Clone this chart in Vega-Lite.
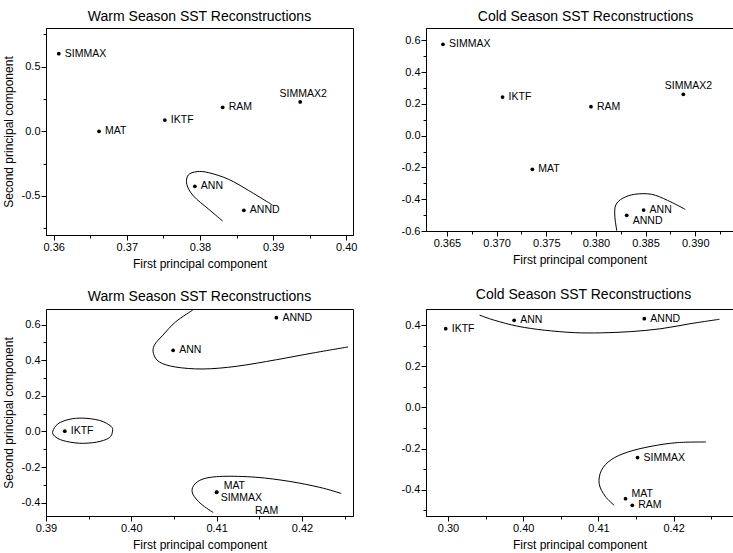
{
  "$schema": "https://vega.github.io/schema/vega-lite/v6.json",
  "background": "white",
  "padding": {"left": 1, "top": 9, "right": 0, "bottom": 0},
  "config": {
    "font": "Liberation Sans",
    "view": {"stroke": "black", "strokeWidth": 1},
    "axis": {
      "grid": false,
      "domainColor": "black",
      "tickColor": "black",
      "labelColor": "black",
      "titleColor": "black",
      "labelFont": "Liberation Sans",
      "titleFont": "Liberation Sans",
      "labelFontSize": 11,
      "titleFontSize": 12,
      "titleFontWeight": "normal",
      "labelPadding": 1,
      "titlePadding": 6,
      "labelFlush": false,
      "labelOverlap": false
    },
    "title": {"font": "Liberation Sans", "fontSize": 14, "fontWeight": "normal", "color": "black"}
  },
  "datasets": {
    "points": [
      {"panel": "warm_a", "name": "SIMMAX", "pc1": 0.3607, "pc2": 0.600},
      {"panel": "warm_a", "name": "MAT", "pc1": 0.3662, "pc2": 0.000},
      {"panel": "warm_a", "name": "IKTF", "pc1": 0.3752, "pc2": 0.087},
      {"panel": "warm_a", "name": "RAM", "pc1": 0.3831, "pc2": 0.186},
      {"panel": "warm_a", "name": "SIMMAX2", "pc1": 0.3937, "pc2": 0.227},
      {"panel": "warm_a", "name": "ANN", "pc1": 0.3793, "pc2": -0.425},
      {"panel": "warm_a", "name": "ANND", "pc1": 0.3860, "pc2": -0.611},
      {"panel": "cold_a", "name": "SIMMAX", "pc1": 0.3646, "pc2": 0.575},
      {"panel": "cold_a", "name": "IKTF", "pc1": 0.3706, "pc2": 0.243},
      {"panel": "cold_a", "name": "RAM", "pc1": 0.3795, "pc2": 0.182},
      {"panel": "cold_a", "name": "SIMMAX2", "pc1": 0.3888, "pc2": 0.260},
      {"panel": "cold_a", "name": "MAT", "pc1": 0.3736, "pc2": -0.212},
      {"panel": "cold_a", "name": "ANN", "pc1": 0.3848, "pc2": -0.468},
      {"panel": "cold_a", "name": "ANND", "pc1": 0.3831, "pc2": -0.501},
      {"panel": "warm_b", "name": "ANND", "pc1": 0.4170, "pc2": 0.639},
      {"panel": "warm_b", "name": "ANN", "pc1": 0.4049, "pc2": 0.456},
      {"panel": "warm_b", "name": "IKTF", "pc1": 0.3922, "pc2": 0.002},
      {"panel": "warm_b", "name": "MAT", "pc1": 0.4100, "pc2": -0.340},
      {"panel": "warm_b", "name": "SIMMAX", "pc1": 0.4100, "pc2": -0.342},
      {"panel": "warm_b", "name": "RAM", "pc1": 0.4155, "pc2": -0.490},
      {"panel": "cold_b", "name": "IKTF", "pc1": 0.3897, "pc2": 0.383},
      {"panel": "cold_b", "name": "ANN", "pc1": 0.3988, "pc2": 0.424},
      {"panel": "cold_b", "name": "ANND", "pc1": 0.4161, "pc2": 0.432},
      {"panel": "cold_b", "name": "SIMMAX", "pc1": 0.4152, "pc2": -0.244},
      {"panel": "cold_b", "name": "MAT", "pc1": 0.4136, "pc2": -0.444},
      {"panel": "cold_b", "name": "RAM", "pc1": 0.4145, "pc2": -0.476}
    ],
    "curves": [
      {"panel": "warm_a", "curve": "c1", "step": 1, "pc1": 0.3831, "pc2": -0.694},
      {"panel": "warm_a", "curve": "c1", "step": 2, "pc1": 0.3812, "pc2": -0.603},
      {"panel": "warm_a", "curve": "c1", "step": 3, "pc1": 0.3791, "pc2": -0.500},
      {"panel": "warm_a", "curve": "c1", "step": 4, "pc1": 0.3782, "pc2": -0.410},
      {"panel": "warm_a", "curve": "c1", "step": 5, "pc1": 0.3784, "pc2": -0.338},
      {"panel": "warm_a", "curve": "c1", "step": 6, "pc1": 0.3796, "pc2": -0.312},
      {"panel": "warm_a", "curve": "c1", "step": 7, "pc1": 0.3812, "pc2": -0.320},
      {"panel": "warm_a", "curve": "c1", "step": 8, "pc1": 0.3839, "pc2": -0.371},
      {"panel": "warm_a", "curve": "c1", "step": 9, "pc1": 0.3866, "pc2": -0.456},
      {"panel": "warm_a", "curve": "c1", "step": 10, "pc1": 0.3899, "pc2": -0.570},

      {"panel": "cold_a", "curve": "c1", "step": 1, "pc1": 0.3821, "pc2": -0.598},
      {"panel": "cold_a", "curve": "c1", "step": 2, "pc1": 0.3819, "pc2": -0.506},
      {"panel": "cold_a", "curve": "c1", "step": 3, "pc1": 0.3820, "pc2": -0.436},
      {"panel": "cold_a", "curve": "c1", "step": 4, "pc1": 0.3827, "pc2": -0.394},
      {"panel": "cold_a", "curve": "c1", "step": 5, "pc1": 0.3839, "pc2": -0.369},
      {"panel": "cold_a", "curve": "c1", "step": 6, "pc1": 0.3856, "pc2": -0.369},
      {"panel": "cold_a", "curve": "c1", "step": 7, "pc1": 0.3872, "pc2": -0.407},
      {"panel": "cold_a", "curve": "c1", "step": 8, "pc1": 0.3890, "pc2": -0.464},

      {"panel": "warm_b", "curve": "c1", "step": 1, "pc1": 0.4072, "pc2": 0.682},
      {"panel": "warm_b", "curve": "c1", "step": 2, "pc1": 0.4052, "pc2": 0.616},
      {"panel": "warm_b", "curve": "c1", "step": 3, "pc1": 0.4037, "pc2": 0.541},
      {"panel": "warm_b", "curve": "c1", "step": 4, "pc1": 0.4027, "pc2": 0.485},
      {"panel": "warm_b", "curve": "c1", "step": 5, "pc1": 0.4026, "pc2": 0.437},
      {"panel": "warm_b", "curve": "c1", "step": 6, "pc1": 0.4033, "pc2": 0.390},
      {"panel": "warm_b", "curve": "c1", "step": 7, "pc1": 0.4052, "pc2": 0.362},
      {"panel": "warm_b", "curve": "c1", "step": 8, "pc1": 0.4084, "pc2": 0.351},
      {"panel": "warm_b", "curve": "c1", "step": 9, "pc1": 0.4123, "pc2": 0.366},
      {"panel": "warm_b", "curve": "c1", "step": 10, "pc1": 0.4170, "pc2": 0.403},
      {"panel": "warm_b", "curve": "c1", "step": 11, "pc1": 0.4213, "pc2": 0.441},
      {"panel": "warm_b", "curve": "c1", "step": 12, "pc1": 0.4254, "pc2": 0.475},
      {"panel": "warm_b", "curve": "c3", "step": 1, "pc1": 0.4096, "pc2": -0.455},
      {"panel": "warm_b", "curve": "c3", "step": 2, "pc1": 0.4082, "pc2": -0.408},
      {"panel": "warm_b", "curve": "c3", "step": 3, "pc1": 0.4072, "pc2": -0.351},
      {"panel": "warm_b", "curve": "c3", "step": 4, "pc1": 0.4073, "pc2": -0.304},
      {"panel": "warm_b", "curve": "c3", "step": 5, "pc1": 0.4084, "pc2": -0.267},
      {"panel": "warm_b", "curve": "c3", "step": 6, "pc1": 0.4107, "pc2": -0.252},
      {"panel": "warm_b", "curve": "c3", "step": 7, "pc1": 0.4146, "pc2": -0.257},
      {"panel": "warm_b", "curve": "c3", "step": 8, "pc1": 0.4185, "pc2": -0.280},
      {"panel": "warm_b", "curve": "c3", "step": 9, "pc1": 0.4221, "pc2": -0.314},
      {"panel": "warm_b", "curve": "c3", "step": 10, "pc1": 0.4246, "pc2": -0.348},

      {"panel": "cold_b", "curve": "c1", "step": 1, "pc1": 0.3942, "pc2": 0.449},
      {"panel": "cold_b", "curve": "c1", "step": 2, "pc1": 0.3962, "pc2": 0.424},
      {"panel": "cold_b", "curve": "c1", "step": 3, "pc1": 0.3993, "pc2": 0.395},
      {"panel": "cold_b", "curve": "c1", "step": 4, "pc1": 0.4028, "pc2": 0.376},
      {"panel": "cold_b", "curve": "c1", "step": 5, "pc1": 0.4068, "pc2": 0.364},
      {"panel": "cold_b", "curve": "c1", "step": 6, "pc1": 0.4104, "pc2": 0.363},
      {"panel": "cold_b", "curve": "c1", "step": 7, "pc1": 0.4143, "pc2": 0.369},
      {"panel": "cold_b", "curve": "c1", "step": 8, "pc1": 0.4183, "pc2": 0.383},
      {"panel": "cold_b", "curve": "c1", "step": 9, "pc1": 0.4223, "pc2": 0.408},
      {"panel": "cold_b", "curve": "c1", "step": 10, "pc1": 0.4261, "pc2": 0.429},
      {"panel": "cold_b", "curve": "c2", "step": 1, "pc1": 0.4121, "pc2": -0.476},
      {"panel": "cold_b", "curve": "c2", "step": 2, "pc1": 0.4109, "pc2": -0.432},
      {"panel": "cold_b", "curve": "c2", "step": 3, "pc1": 0.4101, "pc2": -0.371},
      {"panel": "cold_b", "curve": "c2", "step": 4, "pc1": 0.4104, "pc2": -0.306},
      {"panel": "cold_b", "curve": "c2", "step": 5, "pc1": 0.4117, "pc2": -0.254},
      {"panel": "cold_b", "curve": "c2", "step": 6, "pc1": 0.4139, "pc2": -0.217},
      {"panel": "cold_b", "curve": "c2", "step": 7, "pc1": 0.4170, "pc2": -0.189},
      {"panel": "cold_b", "curve": "c2", "step": 8, "pc1": 0.4205, "pc2": -0.171},
      {"panel": "cold_b", "curve": "c2", "step": 9, "pc1": 0.4243, "pc2": -0.168}
    ],
    "loops": [
      {"panel": "warm_b", "curve": "c2", "step": 1, "pc1": 0.3908, "pc2": 0.002},
      {"panel": "warm_b", "curve": "c2", "step": 2, "pc1": 0.3914, "pc2": 0.043},
      {"panel": "warm_b", "curve": "c2", "step": 3, "pc1": 0.3927, "pc2": 0.068},
      {"panel": "warm_b", "curve": "c2", "step": 4, "pc1": 0.3943, "pc2": 0.075},
      {"panel": "warm_b", "curve": "c2", "step": 5, "pc1": 0.3963, "pc2": 0.062},
      {"panel": "warm_b", "curve": "c2", "step": 6, "pc1": 0.3976, "pc2": 0.030},
      {"panel": "warm_b", "curve": "c2", "step": 7, "pc1": 0.3978, "pc2": 0.002},
      {"panel": "warm_b", "curve": "c2", "step": 8, "pc1": 0.3974, "pc2": -0.036},
      {"panel": "warm_b", "curve": "c2", "step": 9, "pc1": 0.3959, "pc2": -0.060},
      {"panel": "warm_b", "curve": "c2", "step": 10, "pc1": 0.3939, "pc2": -0.066},
      {"panel": "warm_b", "curve": "c2", "step": 11, "pc1": 0.3920, "pc2": -0.051},
      {"panel": "warm_b", "curve": "c2", "step": 12, "pc1": 0.3910, "pc2": -0.026}
    ]
  },
  "columns": 2,
  "spacing": {"row": 74, "column": 73},
  "bounds": "flush",
  "concat": [
    {
      "width": 307,
      "height": 207,
      "title": {"text": "Warm Season SST Reconstructions", "offset": 4},
      "encoding": {
        "x": {
          "field": "pc1", "type": "quantitative",
          "scale": {"domain": [0.35895, 0.40092], "nice": false, "zero": false},
          "axis": {
            "title": "First principal component",
            "values": [0.36, 0.365, 0.37, 0.375, 0.38, 0.385, 0.39, 0.395, 0.4],
            "labelExpr": "abs(datum.value*100-round(datum.value*100))<0.01 ? format(datum.value,'.2f') : ''",
            "tickSize": {"condition": {"test": "abs(datum.value*100-round(datum.value*100))>0.01", "value": 3}, "value": 5}
          }
        },
        "y": {
          "field": "pc2", "type": "quantitative",
          "scale": {"domain": [-0.802, 0.799], "nice": false, "zero": false},
          "axis": {
            "title": "Second principal component",
            "values": [-0.75, -0.5, -0.25, 0, 0.25, 0.5, 0.75],
            "labelExpr": "abs(datum.value*2-round(datum.value*2))<0.01 ? replace(format(datum.value,'.1f'),'−','-') : ''",
            "tickSize": {"condition": {"test": "abs(datum.value*2-round(datum.value*2))>0.01", "value": 3}, "value": 5}
          }
        }
      },
      "layer": [
        {
          "data": {"name": "curves"},
          "transform": [{"filter": "datum.panel === 'warm_a'"}],
          "mark": {"type": "line", "interpolate": "cardinal", "color": "black", "strokeWidth": 1, "clip": true},
          "encoding": {"detail": {"field": "curve"}, "order": {"field": "step", "type": "quantitative"}}
        },
        {
          "data": {"name": "points"},
          "transform": [{"filter": "datum.panel === 'warm_a'"}],
          "mark": {"type": "circle", "color": "black", "size": 14, "opacity": 1, "clip": true}
        },
        {
          "data": {"name": "points"},
          "transform": [{"filter": "datum.panel === 'warm_a' && datum.name !== 'SIMMAX2'"}],
          "mark": {"type": "text", "align": "left", "baseline": "middle", "dx": 6, "fontSize": 10.5, "color": "black"},
          "encoding": {"text": {"field": "name"}}
        },
        {
          "data": {"name": "points"},
          "transform": [{"filter": "datum.panel === 'warm_a' && datum.name === 'SIMMAX2'"}],
          "mark": {"type": "text", "align": "center", "baseline": "middle", "dx": 3, "dy": -8, "fontSize": 10.5, "color": "black"},
          "encoding": {"text": {"field": "name"}}
        }
      ]
    },
    {
      "width": 307,
      "height": 203,
      "title": {"text": "Cold Season SST Reconstructions", "offset": 4, "dx": 6},
      "encoding": {
        "x": {
          "field": "pc1", "type": "quantitative",
          "scale": {"domain": [0.36289, 0.3938], "nice": false, "zero": false},
          "axis": {
            "title": "First principal component",
            "values": [0.365, 0.3675, 0.37, 0.3725, 0.375, 0.3775, 0.38, 0.3825, 0.385, 0.3875, 0.39, 0.3925],
            "labelExpr": "abs(datum.value*200-round(datum.value*200))<0.01 ? format(datum.value,'.3f') : ''",
            "tickSize": {"condition": {"test": "abs(datum.value*200-round(datum.value*200))>0.01", "value": 3}, "value": 5}
          }
        },
        "y": {
          "field": "pc2", "type": "quantitative",
          "scale": {"domain": [-0.6, 0.6774], "nice": false, "zero": false},
          "axis": {
            "title": null,
            "values": [-0.6, -0.5, -0.4, -0.3, -0.2, -0.1, 0, 0.1, 0.2, 0.3, 0.4, 0.5, 0.6],
            "labelExpr": "abs(datum.value*5-round(datum.value*5))<0.01 ? replace(format(datum.value,'.1f'),'−','-') : ''",
            "tickSize": {"condition": {"test": "abs(datum.value*5-round(datum.value*5))>0.01", "value": 3}, "value": 5}
          }
        }
      },
      "layer": [
        {
          "data": {"name": "curves"},
          "transform": [{"filter": "datum.panel === 'cold_a'"}],
          "mark": {"type": "line", "interpolate": "cardinal", "color": "black", "strokeWidth": 1, "clip": true},
          "encoding": {"detail": {"field": "curve"}, "order": {"field": "step", "type": "quantitative"}}
        },
        {
          "data": {"name": "points"},
          "transform": [{"filter": "datum.panel === 'cold_a'"}],
          "mark": {"type": "circle", "color": "black", "size": 14, "opacity": 1, "clip": true}
        },
        {
          "data": {"name": "points"},
          "transform": [{"filter": "datum.panel === 'cold_a' && datum.name !== 'SIMMAX2' && datum.name !== 'ANND'"}],
          "mark": {"type": "text", "align": "left", "baseline": "middle", "dx": 6, "fontSize": 10.5, "color": "black"},
          "encoding": {"text": {"field": "name"}}
        },
        {
          "data": {"name": "points"},
          "transform": [{"filter": "datum.panel === 'cold_a' && datum.name === 'ANND'"}],
          "mark": {"type": "text", "align": "left", "baseline": "middle", "dx": 6, "dy": 6, "fontSize": 10.5, "color": "black"},
          "encoding": {"text": {"field": "name"}}
        },
        {
          "data": {"name": "points"},
          "transform": [{"filter": "datum.panel === 'cold_a' && datum.name === 'SIMMAX2'"}],
          "mark": {"type": "text", "align": "center", "baseline": "middle", "dx": 5, "dy": -8, "fontSize": 10.5, "color": "black"},
          "encoding": {"text": {"field": "name"}}
        }
      ]
    },
    {
      "width": 307,
      "height": 207,
      "title": {"text": "Warm Season SST Reconstructions", "offset": 5},
      "encoding": {
        "x": {
          "field": "pc1", "type": "quantitative",
          "scale": {"domain": [0.39, 0.42598], "nice": false, "zero": false},
          "axis": {
            "title": "First principal component",
            "values": [0.39, 0.395, 0.4, 0.405, 0.41, 0.415, 0.42, 0.425],
            "labelExpr": "abs(datum.value*100-round(datum.value*100))<0.01 ? format(datum.value,'.2f') : ''",
            "tickSize": {"condition": {"test": "abs(datum.value*100-round(datum.value*100))>0.01", "value": 3}, "value": 5}
          }
        },
        "y": {
          "field": "pc2", "type": "quantitative",
          "scale": {"domain": [-0.4747, 0.688], "nice": false, "zero": false},
          "axis": {
            "title": "Second principal component",
            "values": [-0.4, -0.3, -0.2, -0.1, 0, 0.1, 0.2, 0.3, 0.4, 0.5, 0.6],
            "labelExpr": "abs(datum.value*5-round(datum.value*5))<0.01 ? replace(format(datum.value,'.1f'),'−','-') : ''",
            "tickSize": {"condition": {"test": "abs(datum.value*5-round(datum.value*5))>0.01", "value": 3}, "value": 5}
          }
        }
      },
      "layer": [
        {
          "data": {"name": "curves"},
          "transform": [{"filter": "datum.panel === 'warm_b'"}],
          "mark": {"type": "line", "interpolate": "cardinal", "color": "black", "strokeWidth": 1, "clip": true},
          "encoding": {"detail": {"field": "curve"}, "order": {"field": "step", "type": "quantitative"}}
        },
        {
          "data": {"name": "loops"},
          "transform": [{"filter": "datum.panel === 'warm_b'"}],
          "mark": {"type": "line", "interpolate": "cardinal-closed", "color": "black", "strokeWidth": 1, "clip": true},
          "encoding": {"detail": {"field": "curve"}, "order": {"field": "step", "type": "quantitative"}}
        },
        {
          "data": {"name": "points"},
          "transform": [{"filter": "datum.panel === 'warm_b'"}],
          "mark": {"type": "circle", "color": "black", "size": 14, "opacity": 1, "clip": true}
        },
        {
          "data": {"name": "points"},
          "transform": [{"filter": "datum.panel === 'warm_b' && indexof(['ANN','ANND','IKTF'], datum.name) >= 0"}],
          "mark": {"type": "text", "align": "left", "baseline": "middle", "dx": 6, "fontSize": 10.5, "color": "black"},
          "encoding": {"text": {"field": "name"}}
        },
        {
          "data": {"name": "points"},
          "transform": [{"filter": "datum.panel === 'warm_b' && datum.name === 'MAT'"}],
          "mark": {"type": "text", "align": "left", "baseline": "middle", "dx": 7, "dy": -6, "fontSize": 10.5, "color": "black"},
          "encoding": {"text": {"field": "name"}}
        },
        {
          "data": {"name": "points"},
          "transform": [{"filter": "datum.panel === 'warm_b' && datum.name === 'SIMMAX'"}],
          "mark": {"type": "text", "align": "left", "baseline": "middle", "dx": 4, "dy": 6, "fontSize": 10.5, "color": "black"},
          "encoding": {"text": {"field": "name"}}
        },
        {
          "data": {"name": "points"},
          "transform": [{"filter": "datum.panel === 'warm_b' && datum.name === 'RAM'"}],
          "mark": {"type": "text", "align": "center", "baseline": "middle", "dx": 3, "dy": -8, "fontSize": 10.5, "color": "black"},
          "encoding": {"text": {"field": "name"}}
        }
      ]
    },
    {
      "width": 307,
      "height": 207,
      "title": {"text": "Cold Season SST Reconstructions", "offset": 7, "dx": 4},
      "encoding": {
        "x": {
          "field": "pc1", "type": "quantitative",
          "scale": {"domain": [0.38708, 0.42789], "nice": false, "zero": false},
          "axis": {
            "title": "First principal component",
            "values": [0.39, 0.395, 0.4, 0.405, 0.41, 0.415, 0.42, 0.425],
            "labelExpr": "abs(datum.value*100-round(datum.value*100))<0.01 ? (datum.value < 0.395 ? '0.30' : format(datum.value,'.2f')) : ''",
            "tickSize": {"condition": {"test": "abs(datum.value*100-round(datum.value*100))>0.01", "value": 3}, "value": 5}
          }
        },
        "y": {
          "field": "pc2", "type": "quantitative",
          "scale": {"domain": [-0.528, 0.479], "nice": false, "zero": false},
          "axis": {
            "title": null,
            "values": [-0.5, -0.4, -0.3, -0.2, -0.1, 0, 0.1, 0.2, 0.3, 0.4],
            "labelExpr": "abs(datum.value*5-round(datum.value*5))<0.01 ? replace(format(datum.value,'.1f'),'−','-') : ''",
            "tickSize": {"condition": {"test": "abs(datum.value*5-round(datum.value*5))>0.01", "value": 3}, "value": 5}
          }
        }
      },
      "layer": [
        {
          "data": {"name": "curves"},
          "transform": [{"filter": "datum.panel === 'cold_b'"}],
          "mark": {"type": "line", "interpolate": "cardinal", "color": "black", "strokeWidth": 1, "clip": true},
          "encoding": {"detail": {"field": "curve"}, "order": {"field": "step", "type": "quantitative"}}
        },
        {
          "data": {"name": "points"},
          "transform": [{"filter": "datum.panel === 'cold_b'"}],
          "mark": {"type": "circle", "color": "black", "size": 14, "opacity": 1, "clip": true}
        },
        {
          "data": {"name": "points"},
          "transform": [{"filter": "datum.panel === 'cold_b' && datum.name !== 'MAT'"}],
          "mark": {"type": "text", "align": "left", "baseline": "middle", "dx": 6, "fontSize": 10.5, "color": "black"},
          "encoding": {"text": {"field": "name"}}
        },
        {
          "data": {"name": "points"},
          "transform": [{"filter": "datum.panel === 'cold_b' && datum.name === 'MAT'"}],
          "mark": {"type": "text", "align": "left", "baseline": "middle", "dx": 6, "dy": -5, "fontSize": 10.5, "color": "black"},
          "encoding": {"text": {"field": "name"}}
        }
      ]
    }
  ]
}
